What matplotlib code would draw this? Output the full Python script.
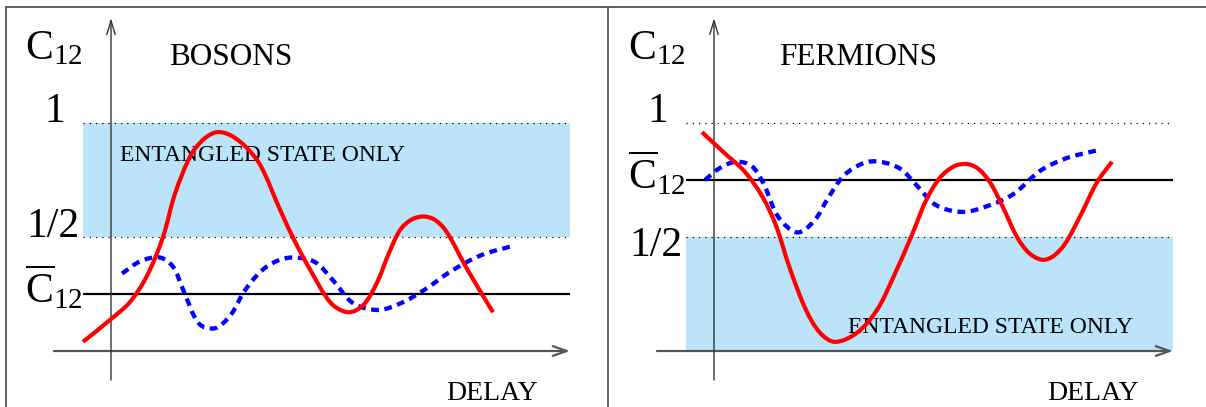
import math
import matplotlib
matplotlib.use("Agg")
import matplotlib.pyplot as plt
from matplotlib.lines import Line2D
from matplotlib.path import Path
from matplotlib.patches import PathPatch

plt.rcParams['mathtext.fontset'] = 'custom'
plt.rcParams['mathtext.rm'] = 'Liberation Serif'
plt.rcParams['mathtext.it'] = 'Liberation Serif:italic'
plt.rcParams['font.family'] = ['Liberation Serif', 'DejaVu Serif']

# ---- data (delay in arbitrary units, C12 values) ----
panel_titles = ["BOSONS", "FERMIONS"]
band_label = "ENTANGLED STATE ONLY"
xlabel = "DELAY"

boson_cbar = 0.25
fermion_cbar = 0.75
boson_band = (0.5, 1.0)
fermion_band = (0.0, 0.5)

boson_red_x = [-0.28, 0.00, 0.19, 0.36, 0.52, 0.64, 0.80, 0.93, 1.06, 1.20, 1.36, 1.50, 1.69, 1.84,
               2.00, 2.20, 2.37, 2.52, 2.66, 2.78, 2.89, 3.00, 3.12, 3.24, 3.36, 3.56, 3.82]
boson_red_y = [0.04, 0.14, 0.215, 0.33, 0.50, 0.69, 0.86, 0.93, 0.96, 0.945, 0.89, 0.81, 0.62, 0.48,
               0.35, 0.21, 0.17, 0.20, 0.30, 0.43, 0.53, 0.575, 0.59, 0.575, 0.52, 0.36, 0.17]
boson_blue_x = [0.11, 0.30, 0.49, 0.62, 0.72, 0.88, 1.04, 1.20, 1.33, 1.50, 1.66, 1.82,
                2.04, 2.22, 2.42, 2.67, 2.90, 3.14, 3.40, 3.70, 4.01]
boson_blue_y = [0.34, 0.395, 0.41, 0.37, 0.27, 0.12, 0.10, 0.16, 0.26, 0.35, 0.395, 0.41,
                0.39, 0.31, 0.21, 0.18, 0.21, 0.27, 0.35, 0.42, 0.46]

fermion_red_x = [-0.12, 0.10, 0.30, 0.48, 0.62, 0.76, 0.92, 1.06, 1.21, 1.43, 1.63, 1.80, 1.98,
                 2.12, 2.26, 2.40, 2.53, 2.64, 2.76, 2.89, 3.03, 3.15, 3.28, 3.39, 3.51, 3.66, 3.83, 3.98]
fermion_red_y = [0.96, 0.87, 0.79, 0.68, 0.55, 0.36, 0.18, 0.08, 0.04, 0.08, 0.18, 0.33, 0.51,
                 0.66, 0.76, 0.81, 0.82, 0.80, 0.74, 0.63, 0.50, 0.43, 0.40, 0.415, 0.47, 0.59, 0.74, 0.83]
fermion_blue_x = [-0.09, 0.05, 0.22, 0.38, 0.50, 0.64, 0.83, 1.00, 1.14, 1.30, 1.50, 1.66, 1.86,
                  2.02, 2.22, 2.49, 2.76, 3.00, 3.26, 3.52, 3.83]
fermion_blue_y = [0.75, 0.80, 0.83, 0.81, 0.73, 0.59, 0.52, 0.57, 0.67, 0.77, 0.825, 0.83, 0.80,
                  0.73, 0.64, 0.61, 0.64, 0.69, 0.79, 0.845, 0.88]

W, H = 1206, 407
fig = plt.figure(figsize=(W / 100, H / 100), dpi=100)

# figure frame
frame_kw = dict(color='#555555', lw=1.3, transform=fig.transFigure)
fig.add_artist(Line2D([6 / W, 1], [1 - 7 / H, 1 - 7 / H], **frame_kw))
fig.add_artist(Line2D([6 / W, 6 / W], [0, 1 - 7 / H], **frame_kw))
fig.add_artist(Line2D([608 / W, 608 / W], [0, 1 - 7 / H], **frame_kw))

BLUE_BAND = '#bbe3fa'
YLIM = (-0.2456, 1.5395)
SX, SY = 100.0, 228.0  # pixel per data unit, used only to parametrise the rendering spline


def smooth_path(xs, ys):
    """Spline-style rendering path (chord-length Hermite as cubic Bezier) through the read points."""
    n = len(xs)
    t = [0.0]
    for i in range(1, n):
        t.append(t[-1] + math.hypot((xs[i] - xs[i - 1]) * SX, (ys[i] - ys[i - 1]) * SY))
    m = []
    for i in range(n):
        a = max(i - 1, 0)
        b = min(i + 1, n - 1)
        dt = t[b] - t[a]
        m.append(((xs[b] - xs[a]) / dt, (ys[b] - ys[a]) / dt))
    verts = [(xs[0], ys[0])]
    codes = [Path.MOVETO]
    for i in range(n - 1):
        h = (t[i + 1] - t[i]) / 3.0
        c1 = (xs[i] + m[i][0] * h, ys[i] + m[i][1] * h)
        c2 = (xs[i + 1] - m[i + 1][0] * h, ys[i + 1] - m[i + 1][1] * h)
        verts += [c1, c2, (xs[i + 1], ys[i + 1])]
        codes += [Path.CURVE4] * 3
    return Path(verts, codes)


def panel(left_px, axis_px, title, cbar, band, red_x, red_y, blue_x, blue_y,
          band_text_xy, half_label_y, cbar_label_y, title_x, delay_x):
    ax = fig.add_axes([left_px / W, 0, 603 / W, 1])
    ax.set_xlim((left_px - axis_px) / 100, (left_px + 603 - axis_px) / 100)
    ax.set_ylim(*YLIM)
    ax.axis('off')
    x0, x1 = -0.28, 4.59
    ax.fill_between([x0, x1], band[0], band[1], color=BLUE_BAND, lw=0, zorder=0)
    ax.hlines([0.5, 1.0], x0, x1, colors='black', linestyles=(0, (1, 4)), lw=0.9, zorder=1)
    ax.hlines(cbar, x0, x1, colors='black', lw=1.6, zorder=2)
    # axes arrows
    ax.annotate('', xy=(4.59, 0), xytext=(-0.57, 0),
                arrowprops=dict(arrowstyle='->,head_length=1.0,head_width=0.35', color='#555555', lw=1.6,
                                shrinkA=0, shrinkB=0), zorder=2)
    ax.annotate('', xy=(0, 1.46), xytext=(0, -0.127),
                arrowprops=dict(arrowstyle='->,head_length=1.0,head_width=0.3', color='#333333', lw=1.0,
                                shrinkA=0, shrinkB=0), zorder=2)
    # curves
    ax.add_patch(PathPatch(smooth_path(red_x, red_y), facecolor='none', edgecolor='#ff0000', lw=3.0,
                           capstyle='butt', joinstyle='round', zorder=4))
    ax.add_patch(PathPatch(smooth_path(blue_x, blue_y), facecolor='none', edgecolor='#0000ff', lw=3.1,
                           linestyle=(0, (1.8, 1.3)), capstyle='butt', zorder=3))
    # texts
    ax.text(-0.86, 1.28, r'$\mathrm{C}_{12}$', fontsize=30, ha='left', va='baseline')
    ax.text(-0.56, 1.005, '1', fontsize=30, ha='center', va='baseline')
    ax.text(-0.85, half_label_y, '1/2', fontsize=30, ha='left', va='baseline')
    ax.text(-0.86, cbar_label_y, r'$\overline{\mathrm{C}}_{12}$', fontsize=30, ha='left', va='baseline')
    ax.text(title_x, 1.255, title, fontsize=22.5, ha='left', va='baseline')
    ax.text(band_text_xy[0], band_text_xy[1], band_label, fontsize=17, ha='left', va='baseline')
    ax.text(delay_x, -0.215, xlabel, fontsize=20, ha='left', va='baseline')
    return ax


panel(0, 111, panel_titles[0], boson_cbar, boson_band, boson_red_x, boson_red_y,
      boson_blue_x, boson_blue_y, (0.09, 0.833), 0.50, 0.21, 0.58, 3.35)
panel(608, 714, panel_titles[1], fermion_cbar, fermion_band, fermion_red_x, fermion_red_y,
      fermion_blue_x, fermion_blue_y, (1.34, 0.08), 0.415, 0.71, 0.65, 3.33)

fig.savefig('out.png', dpi=100)
